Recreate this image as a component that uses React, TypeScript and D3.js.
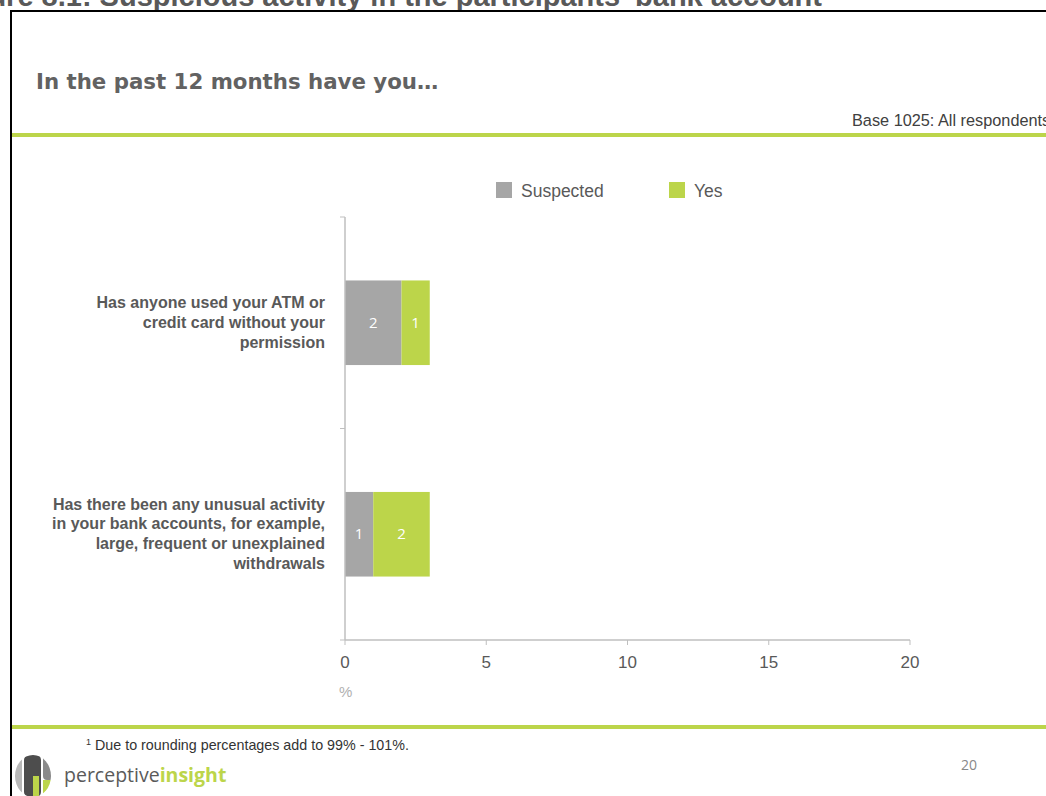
import React from "react";
import * as d3 from "d3";

const categories = [
  ["Has anyone used your ATM or", "credit card without your", "permission"],
  ["Has there been any unusual activity", "in your bank accounts, for example,", "large, frequent or unexplained", "withdrawals"],
];
const categoryKeys = ["atm", "unusual"];
const seriesNames = ["Suspected", "Yes"];
const suspected = [2, 1];
const yes = [1, 2];
const xTicks = [0, 5, 10, 15, 20];
const seriesColors = ["#a6a6a6", "#bcd54a"];

export default function App() {
  const W = 1046, H = 796;
  const x = d3.scaleLinear().domain([0, 20]).range([345, 910]);
  const y = d3.scaleBand().domain(categoryKeys).range([217, 640]).paddingInner(0.6).paddingOuter(0.3);
  const rows = categoryKeys.map((k, i) => ({ key: k, vals: [suspected[i], yes[i]] }));
  const stack = d3.stack<any>().keys(["0", "1"]).value((d: any, key: string) => d.vals[+key]);
  const series = stack(rows as any);
  const grey = "#595959";
  const sans = "'Liberation Sans', Arial, sans-serif";
  return (
    <svg width={W} height={H} style={{ position: "absolute", left: 0, top: 0, fontFamily: sans }}>
      <rect x={0} y={0} width={W} height={H} fill="#fff" />
      {/* cut-off page title */}
      <text x={822} y={6} textAnchor="end" fontSize={29} fontWeight="bold" fill={grey} fontFamily={sans}>
        Figure 8.1: Suspicious activity in the participants' bank account
      </text>
      {/* frame */}
      <line x1={11} y1={11} x2={W} y2={11} stroke="#000" strokeWidth={2} />
      <line x1={11} y1={10} x2={11} y2={H} stroke="#000" strokeWidth={2} />
      <text x={36} y={89} fontSize={21.3} fontWeight="bold" fill="#626262" fontFamily="'DejaVu Sans', Verdana, sans-serif">In the past 12 months have you…</text>
      <text x={852} y={126} fontSize={16.3} fill="#404040">Base 1025: All respondents</text>
      <rect x={12} y={133} width={W} height={4} fill="#bcd54a" />
      {/* legend */}
      {seriesNames.map((s, i) => (
        <g key={s} transform={`translate(${496 + i * 173},182)`}>
          <rect width={16} height={16} fill={seriesColors[i]} />
          <text x={25} y={15} fontSize={17.5} fill={grey}>{s}</text>
        </g>
      ))}
      {/* bars */}
      {series.map((s, si) => (
        <g key={si}>
          {s.map((d: any, i: number) => {
            const x0 = x(d[0]), x1 = x(d[1]);
            const yy = y(categoryKeys[i])!;
            return (
              <g key={i}>
                <rect x={x0} y={yy} width={x1 - x0} height={y.bandwidth()} fill={seriesColors[si]} />
                <text x={(x0 + x1) / 2} y={yy + y.bandwidth() / 2 + 5} textAnchor="middle" fontSize={15} fill="#fff" fontFamily="'Open Sans', sans-serif">
                  {d[1] - d[0]}
                </text>
              </g>
            );
          })}
        </g>
      ))}
      {/* axes */}
      <line x1={345} y1={217} x2={345} y2={640} stroke="#bfbfbf" strokeWidth={1.5} />
      {[217, 428.5, 640].map((t) => (
        <line key={t} x1={340} y1={t} x2={345} y2={t} stroke="#bfbfbf" strokeWidth={1} />
      ))}
      <line x1={345} y1={640} x2={910} y2={640} stroke="#bfbfbf" strokeWidth={1.5} />
      {xTicks.map((t) => (
        <g key={t}>
          <line x1={x(t)} y1={640} x2={x(t)} y2={645} stroke="#bfbfbf" />
          <text x={x(t)} y={668} textAnchor="middle" fontSize={17} fill={grey}>{t}</text>
        </g>
      ))}
      <text x={339} y={697} fontSize={15} fill="#b0b0b0">%</text>
      {/* category labels */}
      {categories.map((lines, i) => {
        const c = y(categoryKeys[i])! + y.bandwidth() / 2;
        const lh = 19.8;
        const start = c - ((lines.length - 1) * lh) / 2 + 5;
        return (
          <text key={i} textAnchor="end" fontSize={16} fontWeight="bold" fill={grey}>
            {lines.map((l, j) => (
              <tspan key={j} x={325} y={start + j * lh}>{l}</tspan>
            ))}
          </text>
        );
      })}
      {/* footer */}
      <rect x={12} y={725} width={W} height={4} fill="#bcd54a" />
      <text x={86} y={750} fontSize={14.3} fill="#333">
        <tspan fontSize={9} dy={-5}>1</tspan>
        <tspan dy={5}> Due to rounding percentages add to 99% - 101%.</tspan>
      </text>
      <text x={961} y={770} fontSize={14} fill="#888" fontFamily="'Open Sans', sans-serif">20</text>
      {/* logo */}
      <defs>
        <clipPath id="logoClip">
          <ellipse cx={33} cy={776} rx={18} ry={21} />
        </clipPath>
      </defs>
      <g clipPath="url(#logoClip)">
        <rect x={13} y={754} width={9} height={44} rx={4} fill="#b8b8b8" />
        <rect x={24} y={754} width={17} height={44} rx={6} fill="#4d4d4d" />
        <rect x={43} y={754} width={10} height={26} rx={4} fill="#8a8a8a" />
        <rect x={43} y={780} width={10} height={18} fill="#bcd54a" />
        <rect x={33} y={776} width={6} height={22} fill="#bcd54a" />
      </g>
      <text x={64} y={782} fontSize={19.5} fontFamily="'Open Sans', sans-serif">
        <tspan fill="#5a5a5a">perceptive</tspan>
        <tspan fill="#bcd54a" fontWeight="bold">insight</tspan>
      </text>
    </svg>
  );
}
